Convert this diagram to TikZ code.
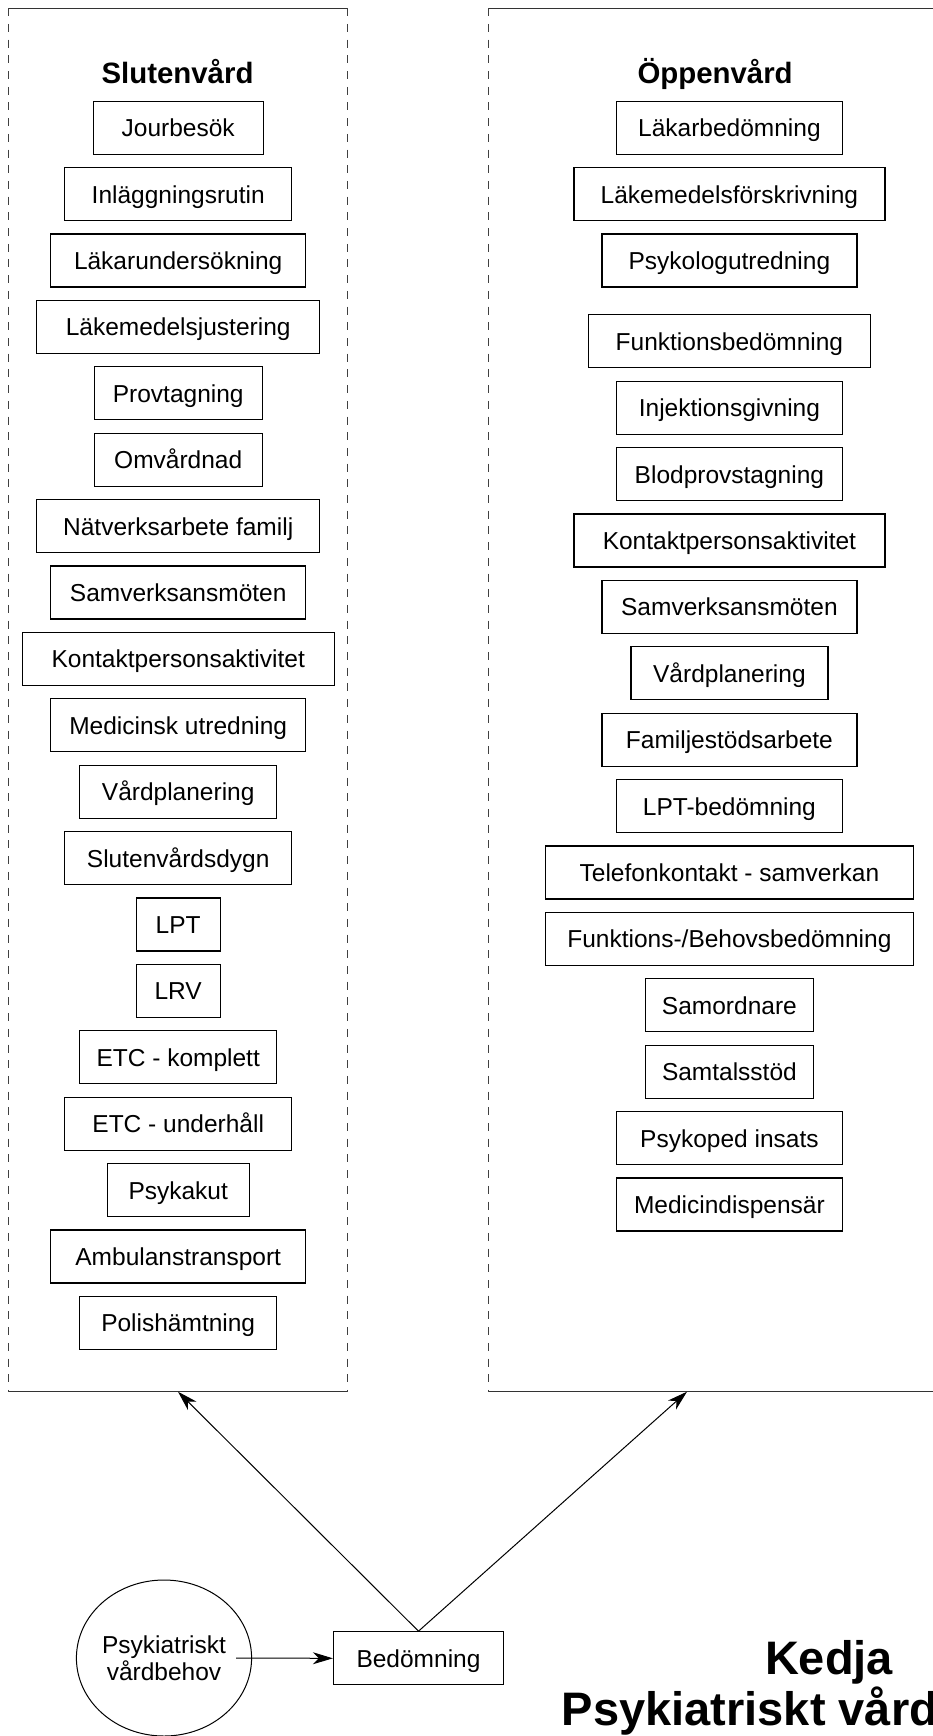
\documentclass[tikz,border=0pt]{standalone}
\usepackage{fontspec}
\setmainfont{Liberation Sans}
\usetikzlibrary{arrows.meta,shapes.geometric}
\begin{document}
\begin{tikzpicture}[x=1pt,y=-1pt,
  box/.style={draw=black, line width=1.3pt, rectangle, inner xsep=0pt, inner ysep=0pt,
    minimum height=53pt, text height=24pt, text depth=6pt,
    font=\fontsize{24.5}{29}\selectfont},
  heading/.style={font=\fontsize{29.4}{34}\selectfont\bfseries, inner sep=0pt},
  bigtitle/.style={font=\fontsize{47}{52}\selectfont\bfseries, inner sep=0pt},
  panel/.style={draw=none, rectangle, inner sep=0pt, outer sep=0pt},
  solidedge/.style={draw=black!80, line width=1pt},
  dashedge/.style={draw=black!75, line width=1pt, dash pattern=on 8pt off 7.7pt},
  link/.style={draw=black, line width=1pt, -{Stealth[length=20pt,width=12pt,inset=6pt]}},
]
\useasboundingbox (0,0) rectangle (933,1736);
\clip (0,0) rectangle (933,1736);

% the two care panels
\node[panel, minimum width=339.4pt, minimum height=1383.4pt] (slut) at (178,700) {};
\node[panel, minimum width=491.7pt, minimum height=1383.4pt] (open) at (734.15,700) {};
\foreach \p in {slut,open}{
  \draw[solidedge] (\p.north west) -- (\p.north east);
  \draw[solidedge] (\p.south west) -- (\p.south east);
  \draw[dashedge] (\p.north west) -- (\p.south west);
  \draw[dashedge] (\p.north east) -- (\p.south east);
}
\coordinate (opentip) at (687,1391.7);

\node[heading, anchor=base] (slutt) at (177.5,83.3) {Slutenvård};
\node[heading, anchor=base west] (oppt) at (637.3,83.3) {Öppenvård};

% inpatient activities
\foreach \t/\w [count=\i from 0] in {Jourbesök/170, Inläggningsrutin/227,
  Läkarundersökning/255, Läkemedelsjustering/283, Provtagning/168, Omvårdnad/168,
  Nätverksarbete familj/283, Samverksansmöten/255, Kontaktpersonsaktivitet/312,
  Medicinsk utredning/255, Vårdplanering/197, Slutenvårdsdygn/227, LPT/84, LRV/84,
  ETC - komplett/197, ETC - underhåll/227, Psykakut/142, Ambulanstransport/255,
  Polishämtning/197}
  \node[box, minimum width=\w pt] (s\i) at (178.2,{127.7+66.4*\i}) {\t};

% outpatient activities
\foreach \t/\w [count=\i from 0] in {Läkarbedömning/226, Läkemedelsförskrivning/311,
  Psykologutredning/255, Funktionsbedömning/282, Injektionsgivning/226,
  Blodprovstagning/226, Kontaktpersonsaktivitet/311, Samverksansmöten/255,
  Vårdplanering/197, Familjestödsarbete/255, LPT-bedömning/226,
  Telefonkontakt - samverkan/368, {Funktions-/Behovsbedömning}/368,
  Samordnare/168, Samtalsstöd/168, Psykoped insats/226, Medicindispensär/226}
  {\pgfmathsetmacro\yy{127.7+66.4*\i+14.4*(\i>2)}
   \node[box, minimum width=\w pt] (o\i) at (729.4,\yy) {\t};}

% entry of the chain
\node[ellipse, draw=black, line width=1pt, minimum width=172pt, minimum height=156pt,
  inner sep=0pt, align=center, font=\fontsize{24.5}{26.6}\selectfont] (need) at (164,1658)
  {Psykiatriskt\\vårdbehov};
\node[box, minimum width=170pt] (bed) at (418.5,1658.3) {Bedömning};
\draw[link] ([xshift=-16pt]need.east) -- (bed.west);
\draw[link] (bed.north) -- (slut.south);
\draw[link] (bed.north) -- (opentip);

\node[bigtitle, anchor=base] (t1) at (829,1674) {Kedja};
\node[bigtitle, anchor=base west] (t2) at (561.7,1725) {Psykiatriskt vård};
\end{tikzpicture}
\end{document}
